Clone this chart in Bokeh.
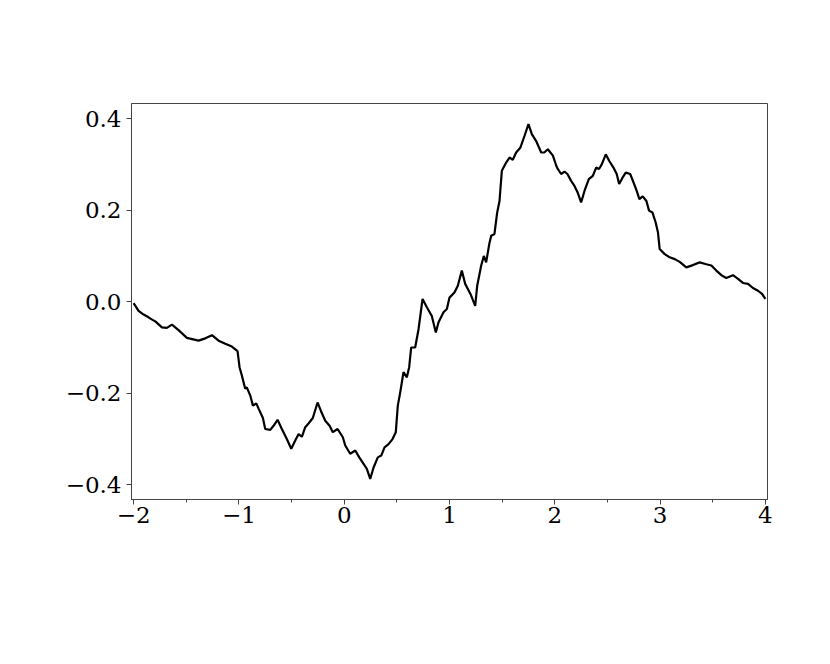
from bokeh.plotting import figure
from bokeh.models import Range1d, FixedTicker
from bokeh.embed import file_html
from bokeh.resources import INLINE

x_vals = [-2.000, -1.953, -1.905, -1.858, -1.832, -1.794, -1.731, -1.684, -1.636, -1.573,
          -1.494, -1.383, -1.319, -1.256, -1.193, -1.129, -1.067, -1.040, -1.013, -0.994,
          -0.972, -0.940, -0.925, -0.892, -0.867, -0.835, -0.812, -0.772, -0.750, -0.702,
          -0.671, -0.633, -0.592, -0.545, -0.503, -0.465, -0.433, -0.402, -0.370, -0.339,
          -0.298, -0.253, -0.222, -0.180, -0.139, -0.108, -0.063, -0.013, 0.010, 0.057,
          0.105, 0.143, 0.184, 0.215, 0.247, 0.279, 0.319, 0.352, 0.383, 0.421,
          0.459, 0.490, 0.509, 0.532, 0.563, 0.595, 0.617, 0.636, 0.674, 0.706,
          0.744, 0.785, 0.832, 0.870, 0.896, 0.943, 0.975, 1.000, 1.047, 1.079,
          1.117, 1.149, 1.199, 1.244, 1.263, 1.301, 1.326, 1.348, 1.380, 1.396,
          1.427, 1.453, 1.475, 1.497, 1.538, 1.570, 1.601, 1.633, 1.674, 1.712,
          1.750, 1.782, 1.823, 1.871, 1.900, 1.934, 1.982, 2.014, 2.028, 2.060,
          2.092, 2.120, 2.155, 2.187, 2.218, 2.250, 2.282, 2.323, 2.361, 2.393,
          2.420, 2.446, 2.484, 2.516, 2.557, 2.588, 2.611, 2.643, 2.674, 2.716,
          2.740, 2.778, 2.803, 2.835, 2.870, 2.895, 2.927, 2.958, 2.980, 2.996,
          3.044, 3.091, 3.139, 3.186, 3.249, 3.312, 3.376, 3.439, 3.487, 3.534,
          3.582, 3.629, 3.692, 3.740, 3.787, 3.835, 3.882, 3.930, 3.968, 4.000]

y_vals = [-0.003, -0.020, -0.028, -0.034, -0.038, -0.043, -0.056, -0.057, -0.050, -0.062,
          -0.079, -0.085, -0.080, -0.073, -0.085, -0.092, -0.098, -0.103, -0.108, -0.143,
          -0.161, -0.190, -0.187, -0.205, -0.227, -0.222, -0.234, -0.254, -0.278, -0.280,
          -0.271, -0.258, -0.278, -0.300, -0.321, -0.303, -0.289, -0.295, -0.274, -0.266,
          -0.254, -0.220, -0.238, -0.260, -0.271, -0.285, -0.278, -0.296, -0.314, -0.332,
          -0.325, -0.340, -0.354, -0.365, -0.387, -0.362, -0.340, -0.336, -0.318, -0.311,
          -0.300, -0.285, -0.227, -0.198, -0.154, -0.165, -0.143, -0.100, -0.100, -0.060,
          0.006, -0.012, -0.031, -0.067, -0.045, -0.023, -0.016, 0.009, 0.020, 0.035,
          0.068, 0.039, 0.017, -0.009, 0.035, 0.079, 0.100, 0.086, 0.129, 0.144,
          0.148, 0.195, 0.220, 0.286, 0.304, 0.315, 0.310, 0.326, 0.337, 0.362,
          0.388, 0.366, 0.351, 0.326, 0.326, 0.333, 0.319, 0.297, 0.290, 0.279,
          0.284, 0.279, 0.264, 0.253, 0.238, 0.217, 0.242, 0.268, 0.275, 0.293,
          0.290, 0.300, 0.322, 0.308, 0.293, 0.279, 0.257, 0.271, 0.282, 0.279,
          0.265, 0.242, 0.224, 0.230, 0.220, 0.199, 0.195, 0.173, 0.151, 0.115,
          0.104, 0.097, 0.093, 0.087, 0.075, 0.080, 0.086, 0.082, 0.079, 0.068,
          0.058, 0.052, 0.058, 0.050, 0.041, 0.039, 0.030, 0.024, 0.017, 0.006]

x_ticks = [-2, -1, 0, 1, 2, 3, 4]
x_tick_labels = ["\u22122", "\u22121", "0", "1", "2", "3", "4"]
x_minor_ticks = [-1.5, -0.5, 0.5, 1.5, 2.5, 3.5]
y_ticks = [-0.4, -0.2, 0.0, 0.2, 0.4]
y_tick_labels = ["\u22120.4", "\u22120.2", "0.0", "0.2", "0.4"]

p = figure(width=814, height=640, output_backend="svg", toolbar_location=None,
           x_range=Range1d(-2.02, 4.02), y_range=Range1d(-0.432, 0.433))
p.min_border_left = 131
p.min_border_top = 103
p.min_border_right = 47
p.min_border_bottom = 141

p.line(x_vals, y_vals, line_color="black", line_width=2.2)

p.grid.visible = False
p.outline_line_color = "#444444"
p.outline_line_width = 1

p.xaxis.ticker = FixedTicker(ticks=x_ticks, minor_ticks=x_minor_ticks)
p.yaxis.ticker = FixedTicker(ticks=y_ticks, minor_ticks=[])
p.xaxis.major_label_overrides = {t: l for t, l in zip(x_ticks, x_tick_labels)}
p.yaxis.major_label_overrides = {t: l for t, l in zip(y_ticks, y_tick_labels)}

for ax in (p.xaxis[0], p.yaxis[0]):
    ax.axis_line_color = "#444444"
    ax.major_tick_line_color = "#444444"
    ax.minor_tick_line_color = "#444444"
    ax.major_tick_out = 5
    ax.major_tick_in = 0
    ax.minor_tick_out = 3
    ax.minor_tick_in = 0
    ax.major_label_text_font = "DejaVu Serif"
    ax.major_label_text_font_size = "23px"
    ax.major_label_text_color = "black"

p.xaxis.major_label_standoff = 2
p.yaxis.major_label_standoff = 5
p.yaxis.major_label_orientation = "horizontal"

open("out.html", "w").write(file_html(p, INLINE))
